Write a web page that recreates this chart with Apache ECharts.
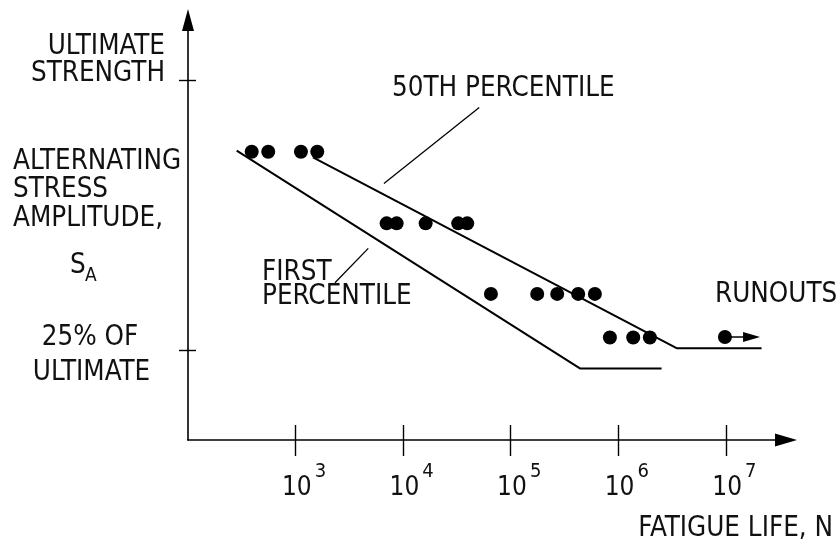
<!DOCTYPE html>
<html><head><meta charset="utf-8">
<script src="https://cdn.jsdelivr.net/npm/echarts@6/dist/echarts.min.js"></script>
<style>html,body{margin:0;padding:0;background:#fff}#c{width:837px;height:544px}</style>
</head><body><div id="c"></div>
<script>
const FONT = '"Liberation Sans Narrow", "DejaVu Sans Condensed", "Liberation Sans", sans-serif';

// x axis: fatigue life N (log); tick labels 10^3 .. 10^7
const decadeTicks = [1e3, 1e4, 1e5, 1e6, 1e7];
const tickExponents = ['3', '4', '5', '6', '7'];
// y axis: alternating stress amplitude, % of ultimate strength
const stressTicks = [25, 100];

// test data points (cycles to failure, stress % of ultimate)
const failN = [391, 557, 1122, 1591,
               7024, 8700, 16190, 32510, 39420,
               65460, 176300, 270500, 424000, 606000,
               835600, 1376000, 1966000];
const failS = [80.1, 80.1, 80.1, 80.1,
               60.2, 60.2, 60.2, 60.2, 60.2,
               40.6, 40.6, 40.6, 40.6, 40.6,
               28.5, 28.5, 28.5];
// runout specimen
const runoutN = [9.8e6, 1.733e7];
const runoutS = [28.6, 28.6];
// 50th percentile S-N curve
const medianN = [1451, 3.483e6, 2.147e7];
const medianS = [78.5, 25.5, 25.5];
// first percentile S-N curve
const firstN = [283.6, 439700, 2.526e6];
const firstS = [80.4, 19.9, 19.9];
// annotation leader lines
const leader50N = [50960, 6630];
const leader50S = [92.4, 71.3];
const leader1N = [4739, 2323];
const leader1S = [53.25, 43.7];

const zip = (a, b) => a.map((v, i) => [v, b[i]]);
const XMIN = 100, XMAX = Math.pow(10, 7.559);

const chart = echarts.init(document.getElementById('c'), null, {renderer: 'canvas'});
const FS = 27.5;
const txt = (text, x, y, size, align) => ({
  type: 'text', x: x, y: y, silent: true,
  style: {text: text, fill: '#111', font: size + 'px ' + FONT, textAlign: align || 'left', textVerticalAlign: 'middle'}
});

chart.setOption({
  animation: false,
  backgroundColor: '#fff',
  grid: {left: 188, right: 51, top: 20, bottom: 104, outerBoundsMode: 'none'},
  xAxis: [{
    type: 'log', logBase: 10, min: XMIN, max: XMAX, position: 'bottom',
    axisLine: {show: true, symbol: ['none', 'triangle'], symbolSize: [13, 22], lineStyle: {color: '#000', width: 1.6}},
    axisTick: {show: true, inside: false, length: 16, customValues: decadeTicks, lineStyle: {color: '#000', width: 1.4}},
    axisLabel: {
      show: true, customValues: decadeTicks, margin: 34, color: '#111',
      formatter: function (v) {
        let i = decadeTicks.findIndex(t => Math.abs(Math.log10(t) - Math.log10(v)) < 1e-6);
        return '{s|}{b|10}{e|' + (i >= 0 ? tickExponents[i] : '') + '}';
      },
      rich: {
        s: {width: 17},
        b: {fontSize: 26, lineHeight: 28, fontFamily: FONT, color: '#111'},
        e: {fontSize: 20, lineHeight: 20, fontFamily: FONT, color: '#111', padding: [0, 0, 32, 3]}
      }
    },
    splitLine: {show: false}, minorTick: {show: false}
  }, {
    type: 'log', logBase: 10, min: XMIN, max: XMAX, position: 'bottom',
    axisLine: {show: false},
    axisTick: {show: true, inside: true, length: 15, customValues: decadeTicks, lineStyle: {color: '#000', width: 1.4}},
    axisLabel: {show: false}, splitLine: {show: false}
  }],
  yAxis: [{
    type: 'value', min: 0, max: 116.7, position: 'left',
    axisLine: {show: true, onZero: false, symbol: ['none', 'triangle'], symbolSize: [12, 22], lineStyle: {color: '#000', width: 1.6}},
    axisTick: {show: true, inside: false, length: 9, customValues: stressTicks, lineStyle: {color: '#000', width: 1.4}},
    axisLabel: {show: false}, splitLine: {show: false}
  }, {
    type: 'value', min: 0, max: 116.7, position: 'left',
    axisLine: {show: false},
    axisTick: {show: true, inside: true, length: 8, customValues: stressTicks, lineStyle: {color: '#000', width: 1.4}},
    axisLabel: {show: false}, splitLine: {show: false}
  }],
  series: [
    {type: 'line', data: zip(medianN, medianS), symbol: 'none', lineStyle: {color: '#000', width: 2}, z: 2},
    {type: 'line', data: zip(firstN, firstS), symbol: 'none', lineStyle: {color: '#000', width: 2}, z: 2},
    {type: 'line', data: zip(leader50N, leader50S), symbol: 'none', lineStyle: {color: '#000', width: 1.3}, z: 2},
    {type: 'line', data: zip(leader1N, leader1S), symbol: 'none', lineStyle: {color: '#000', width: 1.3}, z: 2},
    {type: 'line', z: 3, lineStyle: {color: '#000', width: 1.6}, itemStyle: {color: '#000', opacity: 1},
      data: [
        {value: [runoutN[0], runoutS[0]], symbol: 'none'},
        {value: [runoutN[1], runoutS[1]], symbol: 'triangle', symbolSize: [10, 17], symbolRotate: -90}
      ]},
    {type: 'scatter', data: zip(failN, failS).concat([[runoutN[0], runoutS[0]]]), symbol: 'circle', symbolSize: 14,
      itemStyle: {color: '#000', opacity: 1}, z: 4}
  ],
  graphic: [
    txt('ULTIMATE', 165, 46.7, FS, 'right'),
    txt('STRENGTH', 165, 73.4, FS, 'right'),
    txt('ALTERNATING', 13, 162, FS),
    txt('STRESS', 13, 190, FS),
    txt('AMPLITUDE,', 13, 219, FS),
    txt('S', 70, 266, FS),
    txt('A', 85, 276, 19),
    txt('25% OF', 90, 338, FS, 'center'),
    txt('ULTIMATE', 91.5, 372.5, FS, 'center'),
    txt('50TH PERCENTILE', 392, 89, FS),
    txt('FIRST', 262, 272.5, FS),
    txt('PERCENTILE', 262, 296.7, FS),
    txt('RUNOUTS', 715, 295, FS),
    txt('FATIGUE LIFE, N', 833, 529, FS, 'right')
  ]
});
</script>
</body></html>
